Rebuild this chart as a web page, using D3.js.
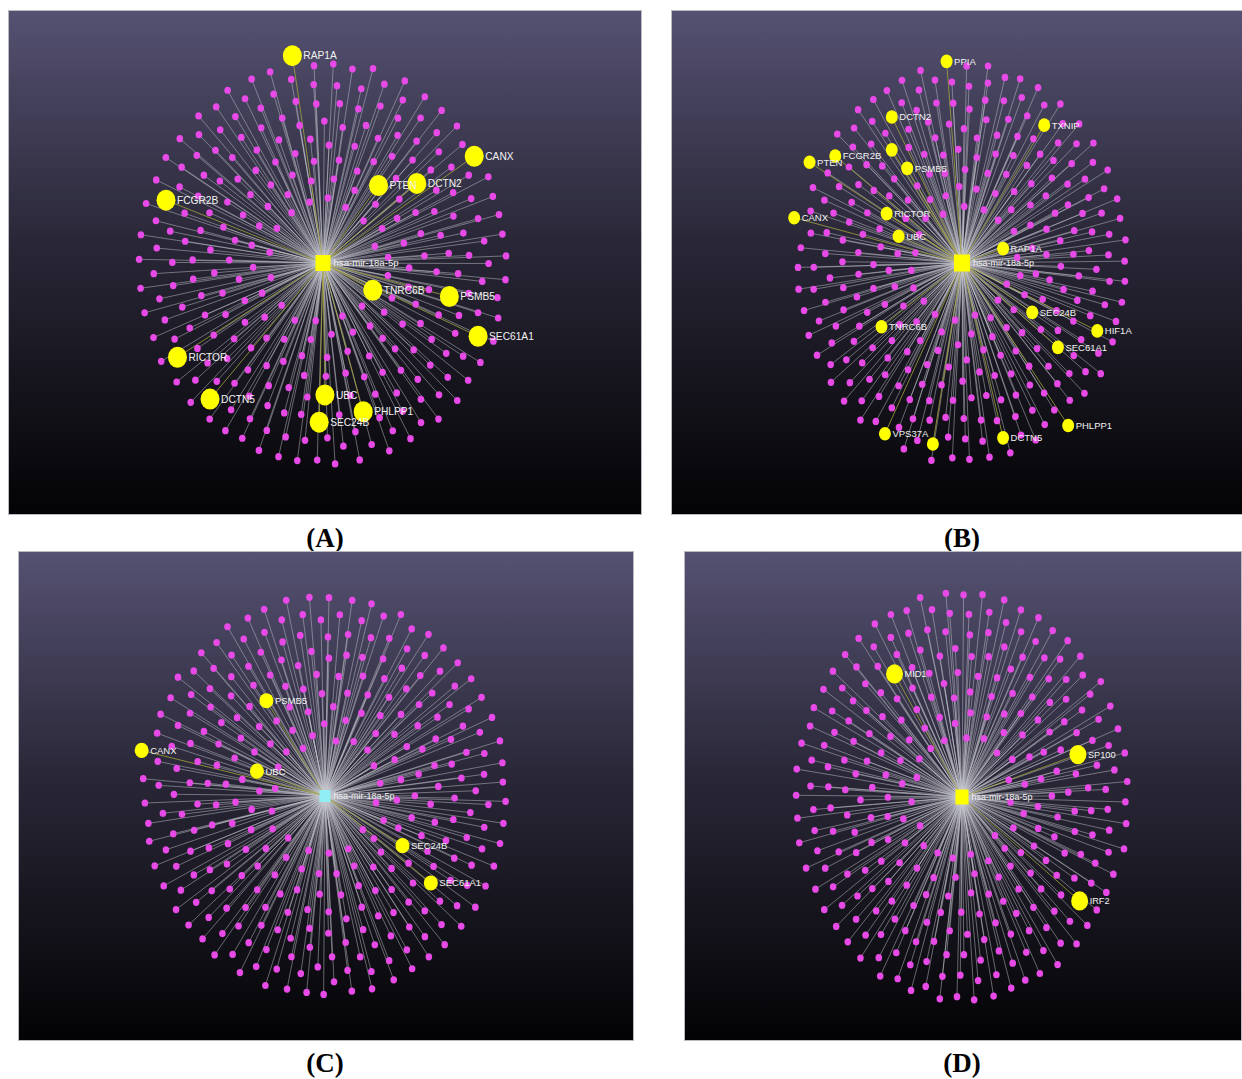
<!DOCTYPE html>
<html>
<head>
<meta charset="utf-8">
<script src="https://cdn.jsdelivr.net/npm/d3@7"></script>
<style>
  body { margin: 0; background: #fff; }
  svg { display: block; }
</style>
</head>
<body>
<svg id="fig" width="1242" height="1079"></svg>
<script>
// ---- data ----
const mirna = 'hsa-mir-18a-5p';
const panelNames = ['(A)', '(B)', '(C)', '(D)'];
const targetCounts = [280, 300, 300, 290];

// highlighted targets per panel, with where they sit in the layout (u, v in -1..1)
const hitsA = ['RAP1A', 'CANX', 'PTEN', 'DCTN2', 'FCGR2B', 'TNRC6B', 'PSMB5', 'SEC61A1', 'RICTOR', 'DCTN5', 'UBC', 'PHLPP1', 'SEC24B'];
const spotA = [[-0.16, -0.99], [0.79, -0.51], [0.29, -0.37], [0.49, -0.38], [-0.82, -0.30], [0.26, 0.13], [0.66, 0.16], [0.81, 0.35], [-0.76, 0.45], [-0.59, 0.65], [0.01, 0.63], [0.21, 0.71], [-0.02, 0.76]];

const hitsB = ['PPIA', 'DCTN2', 'TXNIP', '', 'FCGR2B', 'PTEN', 'PSMB5', 'CANX', 'RICTOR', 'UBC', 'RAP1A', 'SEC24B', 'HIF1A', 'TNRC6B', 'SEC61A1', 'PHLPP1', 'VPS37A', '', 'DCTN5'];
const spotB = [[-0.09, -0.98], [-0.41, -0.71], [0.48, -0.67], [-0.41, -0.55], [-0.74, -0.52], [-0.89, -0.49], [-0.32, -0.46], [-0.98, -0.22], [-0.44, -0.24], [-0.37, -0.13], [0.24, -0.07], [0.41, 0.24], [0.79, 0.33], [-0.47, 0.31], [0.56, 0.41], [0.62, 0.79], [-0.45, 0.83], [-0.17, 0.88], [0.24, 0.85]];

const hitsC = ['PSMB5', 'CANX', 'UBC', 'SEC24B', 'SEC61A1'];
const spotC = [[-0.31, -0.46], [-0.97, -0.22], [-0.36, -0.12], [0.41, 0.24], [0.56, 0.42]];

const hitsD = ['MID1', 'SP100', 'IRF2'];
const spotD = [[-0.39, -0.58], [0.67, -0.20], [0.68, 0.49]];

const hitNames = [hitsA, hitsB, hitsC, hitsD];
const hitSpots = [spotA, spotB, spotC, spotD];

// ---- layout / style per panel ----
const panels = [
  { frame: [8.5, 10.5, 633, 504], hub: [323, 263], rx: 192, ry: 210, hubW: 15, hubH: 16, hubColor: '#ffff00', hitR: [9.5, 10.5], font: 10.2, hubFont: 9.6, tag: [325, 547] },
  { frame: [671.5, 10.5, 575, 504], hub: [962, 263], rx: 174, ry: 209, hubW: 16, hubH: 17, hubColor: '#ffff00', hitR: [6, 6.8], font: 9.5, hubFont: 9, tag: [962, 547] },
  { frame: [18.5, 551.5, 615, 489], hub: [325, 796], rx: 188, ry: 206, hubW: 11, hubH: 12, hubColor: '#8eeef4', hitR: [7, 7.6], font: 9.5, hubFont: 9, tag: [325, 1072] },
  { frame: [684.5, 551.5, 557, 489], hub: [962, 797], rx: 168, ry: 206, hubW: 13, hubH: 15, hubColor: '#ffff00', hitR: [8.5, 9.6], font: 9.2, hubFont: 9, tag: [962, 1072] }
];

const R0 = 200;
const charge = -30;
const hubCharge = -500;

const svg = d3.select('#fig');
const defs = svg.append('defs');
const grad = defs.append('linearGradient')
  .attr('id', 'bg').attr('x1', 0).attr('y1', 0).attr('x2', 0).attr('y2', 1);
grad.append('stop').attr('offset', '0%').attr('stop-color', '#555172');
grad.append('stop').attr('offset', '45%').attr('stop-color', '#2a2838');
grad.append('stop').attr('offset', '100%').attr('stop-color', '#030305');

panels.forEach((p, i) => {
  const names = hitNames[i];
  const spots = hitSpots[i];
  const nFree = targetCounts[i] - names.length;

  // network nodes: hub, highlighted targets (pinned), other targets (free)
  const hub = { id: mirna, kind: 'hub', fx: 0, fy: 0 };
  const hits = names.map((n, j) => ({ id: n, kind: 'hit', fx: spots[j][0] * R0, fy: spots[j][1] * R0 }));
  const others = d3.range(nFree).map(j => ({ id: 't' + j, kind: 'target' }));
  const nodes = [hub].concat(hits, others);

  const k = (targetCounts[i] * -charge - hubCharge) / (R0 * R0);
  const sim = d3.forceSimulation(nodes)
    .force('charge', d3.forceManyBody().strength(d => d.kind === 'hub' ? hubCharge : charge))
    .force('x', d3.forceX(0).strength(k))
    .force('y', d3.forceY(0).strength(k))
    .force('collide', d3.forceCollide(d => d.kind === 'hub' ? 34 : (d.kind === 'hit' ? 10 : 6)).strength(0.7))
    .alphaDecay(0.006)
    .stop();
  for (let t = 0; t < 900; t++) sim.tick();
  nodes.forEach(d => { if (d.fx != null) { d.x = d.fx; d.y = d.fy; } });

  const ext = d3.max(nodes, d => Math.hypot(d.x, d.y));
  const xs = d3.scaleLinear().domain([-ext, ext]).range([p.hub[0] - p.rx, p.hub[0] + p.rx]);
  const ys = d3.scaleLinear().domain([-ext, ext]).range([p.hub[1] - p.ry, p.hub[1] + p.ry]);

  const [fx, fy, fw, fh] = p.frame;
  const clipId = 'clip' + i;
  defs.append('clipPath').attr('id', clipId)
    .append('rect').attr('x', fx).attr('y', fy).attr('width', fw).attr('height', fh);

  const g = svg.append('g');
  g.append('rect')
    .attr('x', fx).attr('y', fy).attr('width', fw).attr('height', fh)
    .attr('fill', 'url(#bg)')
    .attr('stroke', '#b9b9c0').attr('stroke-width', 1);

  const net = g.append('g').attr('clip-path', `url(#${clipId})`);
  const targets = nodes.filter(d => d.kind !== 'hub');

  // edges
  net.append('g').selectAll('line')
    .data(targets.filter(d => d.kind === 'target'))
    .join('line')
    .attr('x1', xs(0)).attr('y1', ys(0))
    .attr('x2', d => xs(d.x)).attr('y2', d => ys(d.y))
    .attr('stroke', '#c8c8d0').attr('stroke-opacity', 0.6).attr('stroke-width', 0.8);
  net.append('g').selectAll('line')
    .data(hits)
    .join('line')
    .attr('x1', xs(0)).attr('y1', ys(0))
    .attr('x2', d => xs(d.x)).attr('y2', d => ys(d.y))
    .attr('stroke', '#a8a83c').attr('stroke-opacity', 0.85).attr('stroke-width', 0.9);

  // target nodes
  net.append('g').selectAll('ellipse')
    .data(others)
    .join('ellipse')
    .attr('cx', d => xs(d.x)).attr('cy', d => ys(d.y))
    .attr('rx', 3.3).attr('ry', 3.6)
    .attr('fill', '#e84ae8');

  net.append('g').selectAll('ellipse')
    .data(hits)
    .join('ellipse')
    .attr('cx', d => xs(d.x)).attr('cy', d => ys(d.y))
    .attr('rx', p.hitR[0]).attr('ry', p.hitR[1])
    .attr('fill', '#ffff00');

  // hub
  net.append('rect')
    .attr('x', xs(0) - p.hubW / 2).attr('y', ys(0) - p.hubH / 2)
    .attr('width', p.hubW).attr('height', p.hubH)
    .attr('fill', p.hubColor);

  // labels
  net.append('g').selectAll('text')
    .data(hits.filter(d => d.id))
    .join('text')
    .attr('x', d => xs(d.x) + p.hitR[0] + 1.5)
    .attr('y', d => ys(d.y))
    .attr('dy', '0.36em')
    .attr('font-family', 'Liberation Sans, Arial, sans-serif')
    .attr('font-size', p.font)
    .attr('fill', '#f2f2f2')
    .text(d => d.id);

  net.append('text')
    .attr('x', xs(0) + p.hubW / 2 + 3)
    .attr('y', ys(0))
    .attr('dy', '0.36em')
    .attr('font-family', 'Liberation Sans, Arial, sans-serif')
    .attr('font-size', p.hubFont)
    .attr('fill', '#f2f2f2')
    .text(mirna);

  svg.append('text')
    .attr('x', p.tag[0]).attr('y', p.tag[1])
    .attr('text-anchor', 'middle')
    .attr('font-family', 'Liberation Serif, Times New Roman, serif')
    .attr('font-weight', 'bold')
    .attr('font-size', 27)
    .attr('fill', '#000')
    .text(panelNames[i]);
});
</script>
</body>
</html>
